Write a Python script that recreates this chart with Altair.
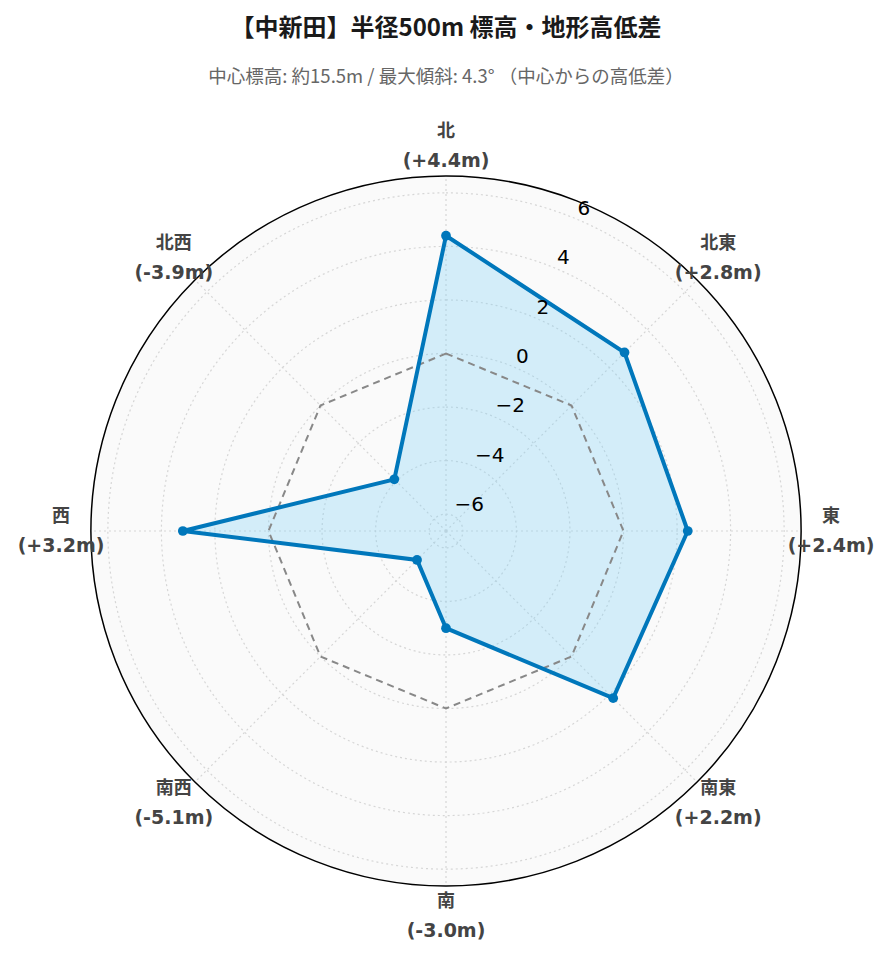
import math
import altair as alt
import pandas as pd

# ---- data ----
DIRECTIONS = ["北", "北東", "東", "南東", "南", "南西", "西", "北西"]
ELEV_DIFF = [4.4, 2.8, 2.4, 2.2, -3.0, -5.1, 3.2, -3.9]
VALUE_LABELS = ["(+4.4m)", "(+2.8m)", "(+2.4m)", "(+2.2m)", "(-3.0m)", "(-5.1m)", "(+3.2m)", "(-3.9m)"]
RADIAL_TICKS = [-6, -4, -2, 0, 2, 4, 6]
RADIAL_TICK_TEXT = ["−6", "−4", "−2", "0", "2", "4", "6"]

TITLE = "【中新田】半径500m 標高・地形高低差"
SUBTITLE = "中心標高: 約15.5m / 最大傾斜: 4.3° （中心からの高低差）"

# ---- radial axis setup ----
R_MIN, R_MAX = -6.63, 6.63
SPAN = R_MAX - R_MIN
SIZE = 710  # plot diameter in px
LABEL_R = SPAN * 385 / 355  # direction labels just outside the circle
TICK_ANGLE = math.pi / 8     # radial axis drawn at 22.5 deg from north

df = pd.DataFrame({"dir": DIRECTIONS, "value": ELEV_DIFF, "label": VALUE_LABELS,
                   "idx": list(range(len(DIRECTIONS)))})
df_ticks = pd.DataFrame({"tick": RADIAL_TICKS, "text": RADIAL_TICK_TEXT})

xs = alt.Scale(domain=[-SPAN, SPAN])
ys = alt.Scale(domain=[-SPAN, SPAN])
rs = alt.Scale(type="linear", domain=[0, SPAN], range=[0, SIZE / 2], zero=True)

base = alt.Chart(df).transform_calculate(
    ang="datum.idx * PI / 4",
    r=f"datum.value - ({R_MIN})",
    x="datum.r * sin(datum.ang)",
    y="datum.r * cos(datum.ang)",
    zr=f"{-R_MIN}",
    zx="datum.zr * sin(datum.ang)",
    zy="datum.zr * cos(datum.ang)",
    ox=f"{SPAN} * sin(datum.ang)",
    oy=f"{SPAN} * cos(datum.ang)",
    cx="0",
    cy="0",
    lx=f"{LABEL_R} * sin(datum.ang)",
    ly=f"{LABEL_R} * cos(datum.ang)",
)

X = lambda f: alt.X(f"{f}:Q", scale=xs, axis=None)
Y = lambda f: alt.Y(f"{f}:Q", scale=ys, axis=None)

# background disc with outer black circle
bg = alt.Chart(pd.DataFrame({"r": [SPAN]})).mark_arc(
    theta=0, theta2=2 * math.pi, fill="#fafafa", stroke="black", strokeWidth=1.5
).encode(radius=alt.Radius("r:Q", scale=rs, stack=None))

ticks_base = alt.Chart(df_ticks).transform_calculate(
    r=f"datum.tick - ({R_MIN})",
    x=f"datum.r * sin({TICK_ANGLE})",
    y=f"datum.r * cos({TICK_ANGLE})",
)

grid_circles = ticks_base.mark_arc(
    theta=0, theta2=2 * math.pi, filled=False, stroke="#d6d6d6", strokeWidth=1.2,
    strokeDash=[2, 3]
).encode(radius=alt.Radius("r:Q", scale=rs, stack=None))

spokes = base.mark_rule(color="#d6d6d6", strokeWidth=1.2, strokeDash=[2, 3]).encode(
    x=X("cx"), y=Y("cy"), x2="ox:Q", y2="oy:Q"
)

fill_poly = base.mark_line(
    interpolate="linear-closed", fill="#7bcff7", fillOpacity=0.3, strokeOpacity=0
).encode(x=X("x"), y=Y("y"), order="idx:Q")

zero_line = base.mark_line(
    interpolate="linear-closed", color="#888888", strokeWidth=2, strokeDash=[7, 5]
).encode(x=X("zx"), y=Y("zy"), order="idx:Q")

data_line = base.mark_line(
    interpolate="linear-closed", color="#0077bb", strokeWidth=4
).encode(x=X("x"), y=Y("y"), order="idx:Q")

points = base.mark_circle(color="#0077bb", size=95, opacity=1).encode(x=X("x"), y=Y("y"))

tick_labels = ticks_base.mark_text(
    align="left", baseline="middle", dx=2, dy=-10, fontSize=20,
    font="DejaVu Sans", color="black"
).encode(x=X("x"), y=Y("y"), text="text:N")

dir_names = base.mark_text(
    align="center", baseline="middle", dy=-14.5, fontSize=18, fontWeight="bold",
    font="DejaVu Sans, Noto Sans CJK JP", color="#444444"
).encode(x=X("lx"), y=Y("ly"), text="dir:N")

dir_values = base.mark_text(
    align="center", baseline="middle", dy=14.5, fontSize=19, fontWeight="bold",
    font="DejaVu Sans, Noto Sans CJK JP", color="#444444"
).encode(x=X("lx"), y=Y("ly"), text="label:N")

chart = alt.layer(
    bg, grid_circles, spokes, fill_poly, zero_line, data_line, points,
    tick_labels, dir_names, dir_values
).properties(
    width=SIZE, height=SIZE,
    background="white",
    title=alt.TitleParams(
        text=TITLE, subtitle=SUBTITLE, anchor="middle",
        font="Noto Sans CJK JP", fontSize=24, fontWeight="bold", color="#1a1a1a",
        subtitleFont="Noto Sans CJK JP", subtitleFontSize=18.5, subtitleColor="#666666",
        subtitlePadding=27, offset=36,
    ),
    autosize=alt.AutoSizeParams(type="none"),
    padding={"left": 83, "top": 168, "right": 84, "bottom": 68},
).configure_view(strokeWidth=0, stroke="transparent")

chart.save("out.html", embed_options={"renderer": "svg", "actions": False})
